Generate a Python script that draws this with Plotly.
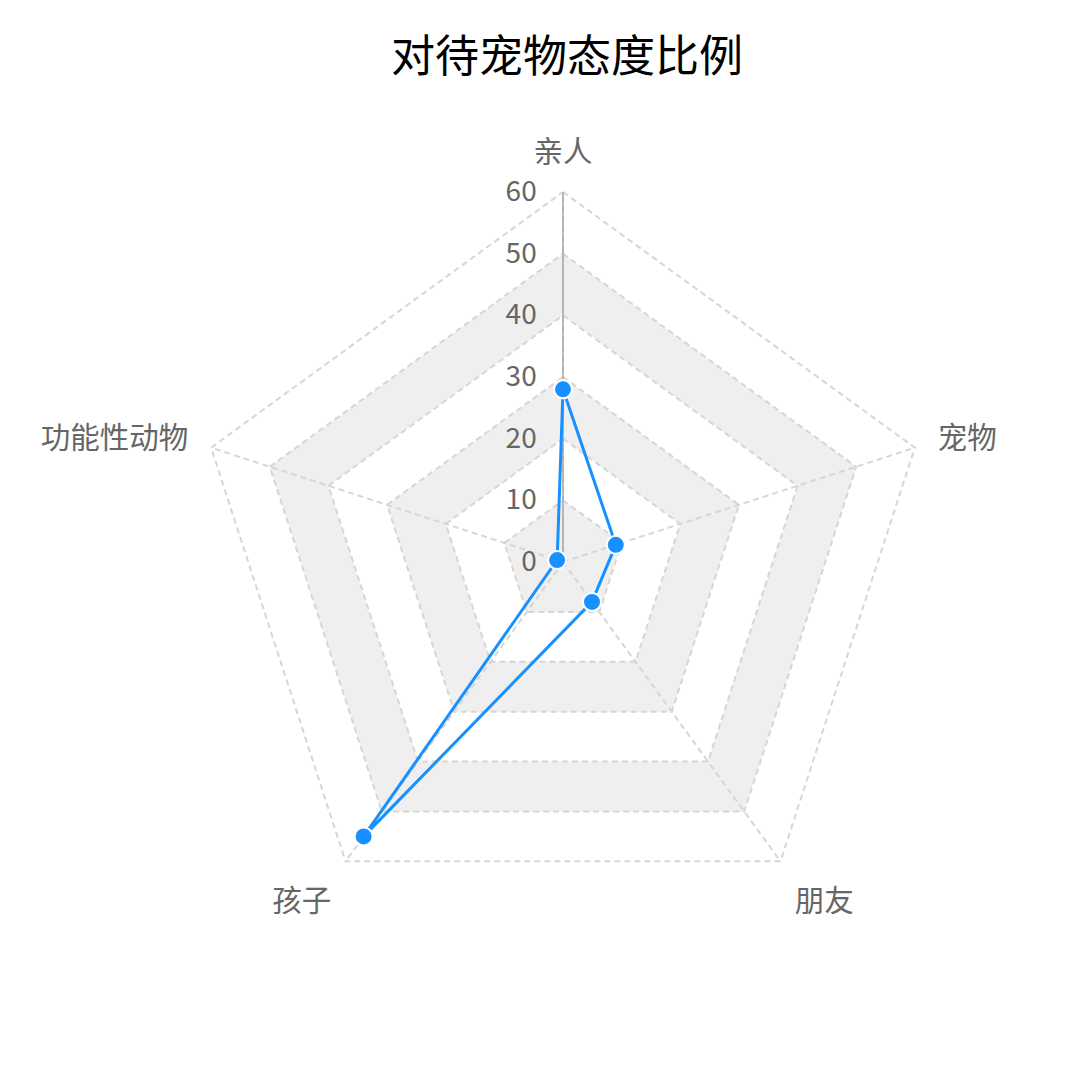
import plotly.graph_objects as go

categories = ["亲人", "宠物", "朋友", "孩子", "功能性动物"]
values = [28, 9, 8, 55, 1]
radial_ticks = [0, 10, 20, 30, 40, 50, 60]
band_pairs = [(0, 10), (20, 30), (40, 50)]

FONT = "Noto Sans CJK SC"
GRID = "#d6d6d6"
fig = go.Figure()

closed = categories + [categories[0]]
rev = closed[::-1]
for lo, hi in band_pairs:
    r = [hi] * len(closed) + [lo] * len(rev)
    th = closed + rev
    fig.add_trace(go.Scatterpolar(
        r=r, theta=th, mode="lines", fill="toself",
        fillcolor="#efefef", line=dict(width=0), hoverinfo="skip",
        showlegend=False))

for t in radial_ticks[1:]:
    fig.add_trace(go.Scatterpolar(
        r=[t] * len(closed), theta=closed, mode="lines", cliponaxis=False,
        line=dict(color=GRID, width=2, dash="6px,4px"),
        hoverinfo="skip", showlegend=False))

for c in categories:
    fig.add_trace(go.Scatterpolar(
        r=[0, radial_ticks[-1]], theta=[c, c], mode="lines", cliponaxis=False,
        line=dict(color=GRID, width=2, dash="6px,4px"),
        hoverinfo="skip", showlegend=False))

fig.add_trace(go.Scatterpolar(
    r=[0, radial_ticks[-1]], theta=[categories[0]] * 2, mode="lines", cliponaxis=False,
    line=dict(color="#a6a6a6", width=1.5), hoverinfo="skip", showlegend=False))

fig.add_trace(go.Scatterpolar(
    r=values + [values[0]], theta=closed, mode="lines+markers", cliponaxis=False,
    line=dict(color="#1890ff", width=3),
    marker=dict(size=18, color="#1890ff", line=dict(color="white", width=2)),
    showlegend=False))

RMAX = 60.6
cx, cy, R = 555, 554, 370 * RMAX / 60
fig.update_layout(
    width=1080, height=1080,
    paper_bgcolor="white", plot_bgcolor="white",
    margin=dict(l=0, r=0, t=0, b=0),
    font=dict(family=FONT),
    title=dict(text="对待宠物态度比例", x=559 / 1080, xanchor="center",
               y=1 - 49 / 1080, yanchor="middle", yref="container",
               font=dict(size=44, color="#000000", family=FONT)),
    polar=dict(
        domain=dict(x=[(cx - R) / 1080, (cx + R) / 1080],
                    y=[(1080 - cy - R) / 1080, (1080 - cy + R) / 1080]),
        bgcolor="white",
        gridshape="linear",
        radialaxis=dict(range=[0, RMAX], tickvals=radial_ticks, angle=90, tickangle=90,
                        side="counterclockwise", showgrid=False, showline=False,
                        ticks="outside", ticklen=16, tickcolor="rgba(0,0,0,0)",
                        tickfont=dict(size=28, color="#666666", family=FONT)),
        angularaxis=dict(direction="clockwise", rotation=90, categoryorder="array",
                         categoryarray=categories, showgrid=False, showline=False,
                         ticks="outside", ticklen=14, tickcolor="rgba(0,0,0,0)",
                         tickfont=dict(size=29.5, color="#666666", family=FONT)),
    ),
)

fig.write_html("out.html")
